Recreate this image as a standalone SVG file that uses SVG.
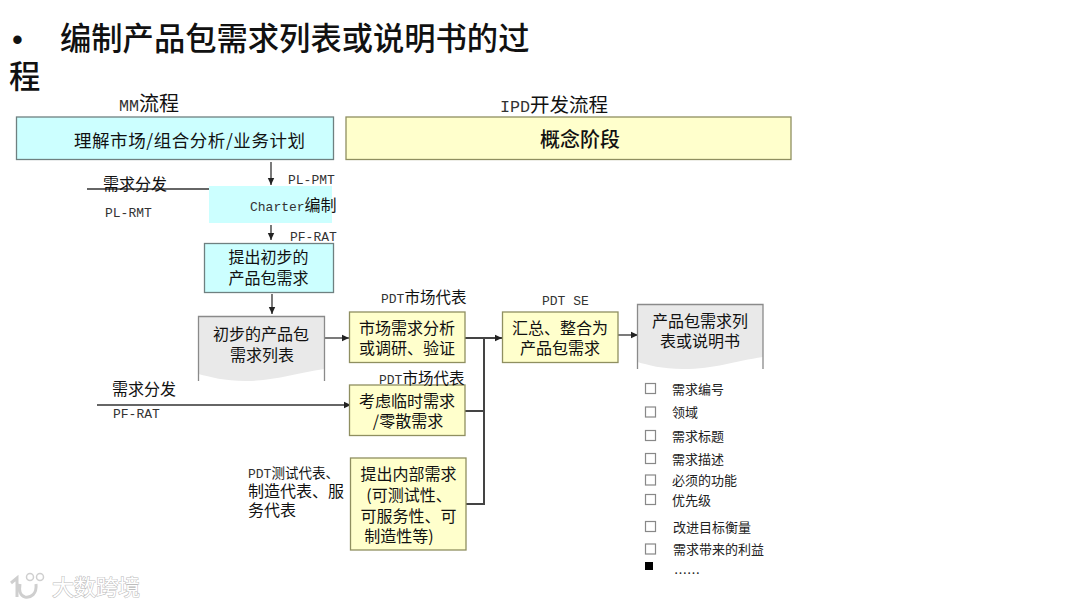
<svg xmlns="http://www.w3.org/2000/svg" width="1080" height="607" viewBox="0 0 1080 607">
<style>
text{font-family:"Noto Sans CJK SC","Liberation Sans",sans-serif;fill:#111}
.m{font-family:"Liberation Mono","Noto Sans CJK SC",monospace;font-size:13px;fill:#333}
.z{font-family:"Noto Sans CJK SC",sans-serif;fill:#111}
.t{font-size:17.500px}
.c{font-size:16px;text-anchor:middle}
.s{font-size:13px;fill:#222}
.b{fill:#ccffff;stroke:#6f8080;stroke-width:1.3}
.y{fill:#ffffcc;stroke:#8f8f60;stroke-width:1.3}
.d{fill:#e9e9e9}
.e{fill:none;stroke:#8a8a8a;stroke-width:1.3}
.l{fill:none;stroke:#333;stroke-width:1.3}
.h{fill:none;stroke:#444;stroke-width:2}
.k{fill:#fff;stroke:#888;stroke-width:1.2}
</style>
<defs><marker id="a" markerUnits="userSpaceOnUse" markerWidth="8" markerHeight="8" refX="7" refY="4" orient="auto"><path d="M0 0.8L7 4L0 7.2Z" fill="#222"/></marker></defs>
<g id="title"><text x="12" y="50" font-size="31" style="font-family:'Liberation Sans',sans-serif">•</text><text x="60" y="50" font-size="31.300" font-weight="500">编制产品包需求列表或说明书的过</text><text x="9" y="88" font-size="31.300" font-weight="500">程</text></g>
<g id="headers"><text class="m" x="119" y="111" style="font-size:16.700px">MM<tspan class="z" font-size="20">流程</tspan></text><text class="m" x="500" y="112" style="font-size:16.700px">IPD<tspan class="z" font-size="19.500">开发流程</tspan></text></g>
<g id="connectors">
<path class="l" d="M271 162V185" marker-end="url(#a)"/>
<path class="l" d="M271 225V240" marker-end="url(#a)"/>
<path class="l" d="M272 294V314" marker-end="url(#a)"/>
<path class="l" d="M87 189H210"/>
<path class="l" d="M324 338H349" marker-end="url(#a)"/>
<path class="l" d="M97 405H351" marker-end="url(#a)"/>
<path class="h" d="M465 338H502" marker-end="url(#a)"/>
<path class="h" d="M465 411H484V338"/>
<path class="h" d="M466 504H484V411"/>
<path class="l" d="M618 335H638" marker-end="url(#a)"/>
</g>
<g id="n1"><rect class="b" x="16.500" y="117" width="317" height="42.500"/><text class="t" x="74" y="147" textLength="231">理解市场/组合分析/业务计划</text></g>
<g id="n2"><rect class="y" x="346" y="117" width="445" height="42.500"/><text x="580" y="147" text-anchor="middle" font-size="20" font-weight="500">概念阶段</text></g>
<g id="n3"><rect x="209" y="186" width="123" height="37" fill="#ccffff"/><text class="m" x="250" y="211">Charter<tspan class="z" font-size="16">编制</tspan></text></g>
<g id="n4"><rect class="b" x="204.500" y="243.500" width="129" height="49"/><text class="c" x="268.500" y="263">提出初步的<tspan x="268.500" dy="21">产品包需求</tspan></text></g>
<g id="n5"><path class="d" d="M198.500 316.500H324.500V369C295 373 275 381 245 381C225 381 210 377 198.500 374Z"/><path class="e" d="M198.500 381V316.500H324.500V381"/><text class="c" x="261" y="340">初步的产品包<tspan x="262" dy="21">需求列表</tspan></text></g>
<g id="n6"><rect class="y" x="349.500" y="312" width="115.500" height="50.500"/><text class="c" x="407" y="334">市场需求分析<tspan x="407" dy="20">或调研、验证</tspan></text></g>
<g id="n7"><rect class="y" x="349.500" y="385" width="115.500" height="50.500"/><text class="c" x="407" y="407">考虑临时需求<tspan x="408" dy="20">/零散需求</tspan></text></g>
<g id="n8"><rect class="y" x="350.500" y="458" width="115.500" height="92"/><text class="c" x="408.500" y="480">提出内部需求<tspan x="409" dy="21">(可测试性、</tspan><tspan x="408.500" dy="21">可服务性、可</tspan><tspan x="399" dy="20">制造性等)</tspan></text></g>
<g id="n9"><rect class="y" x="502.500" y="312" width="115.500" height="50.500"/><text class="c" x="560" y="334">汇总、整合为<tspan x="560" dy="20">产品包需求</tspan></text></g>
<g id="n10"><path class="d" d="M637.500 304.500H763V357C735 361 715 369 683 369C662 369 648 365 637.500 362Z"/><path class="e" d="M637.500 369V304.500H763V369"/><text class="c" x="700" y="327">产品包需求列<tspan x="700" dy="20">表或说明书</tspan></text></g>
<g id="labels">
<text x="103" y="190" font-size="16">需求分发</text>
<text class="m" x="105" y="217">PL-RMT</text>
<text class="m" x="288" y="184">PL-PMT</text>
<text class="m" x="290" y="241">PF-RAT</text>
<text class="m" x="381" y="303">PDT<tspan class="z" font-size="15.500">市场代表</tspan></text>
<text class="m" x="379" y="384">PDT<tspan class="z" font-size="15.500">市场代表</tspan></text>
<text class="m" x="542" y="305">PDT SE</text>
<text x="112" y="395" font-size="16">需求分发</text>
<text class="m" x="113" y="418">PF-RAT</text>
<text x="248" y="478" font-size="16"><tspan class="m">PDT</tspan><tspan font-size="13.500">测试代表、</tspan><tspan x="248" dy="19">制造代表、服</tspan><tspan x="248" dy="19">务代表</tspan></text>
</g>
<g id="list">
<rect class="k" x="645.500" y="383.500" width="10" height="10"/><text class="s" x="672" y="394">需求编号</text>
<rect class="k" x="645.500" y="407" width="10" height="10"/><text class="s" x="672" y="417">领域</text>
<rect class="k" x="645.500" y="430.500" width="10" height="10"/><text class="s" x="672" y="441">需求标题</text>
<rect class="k" x="645.500" y="453.500" width="10" height="10"/><text class="s" x="672" y="464">需求描述</text>
<rect class="k" x="645.500" y="475" width="10" height="10"/><text class="s" x="672" y="485">必须的功能</text>
<rect class="k" x="645.500" y="494.500" width="10" height="10"/><text class="s" x="672" y="505">优先级</text>
<rect class="k" x="645.500" y="521.500" width="10" height="10"/><text class="s" x="673" y="532">改进目标衡量</text>
<rect class="k" x="645.500" y="544" width="10" height="10"/><text class="s" x="673" y="554">需求带来的利益</text>
<rect x="645" y="562" width="8" height="8" fill="#000"/><text class="s" x="674" y="578">……</text>
</g>
<g id="watermark">
<path d="M11 583L17 578V597M36 584C37 594 31 598 25 597C20 596 19 590 20 584" fill="none" stroke="#cfcfcf" stroke-width="3"/>
<circle cx="30" cy="577" r="3.500" fill="none" stroke="#cfcfcf" stroke-width="1.500"/><circle cx="40" cy="577" r="3.500" fill="none" stroke="#cfcfcf" stroke-width="1.500"/>
<text x="52" y="595" font-size="22" style="fill:#fff;stroke:#bdbdbd;stroke-width:1.100;paint-order:stroke">大数跨境</text>
</g>
</svg>
